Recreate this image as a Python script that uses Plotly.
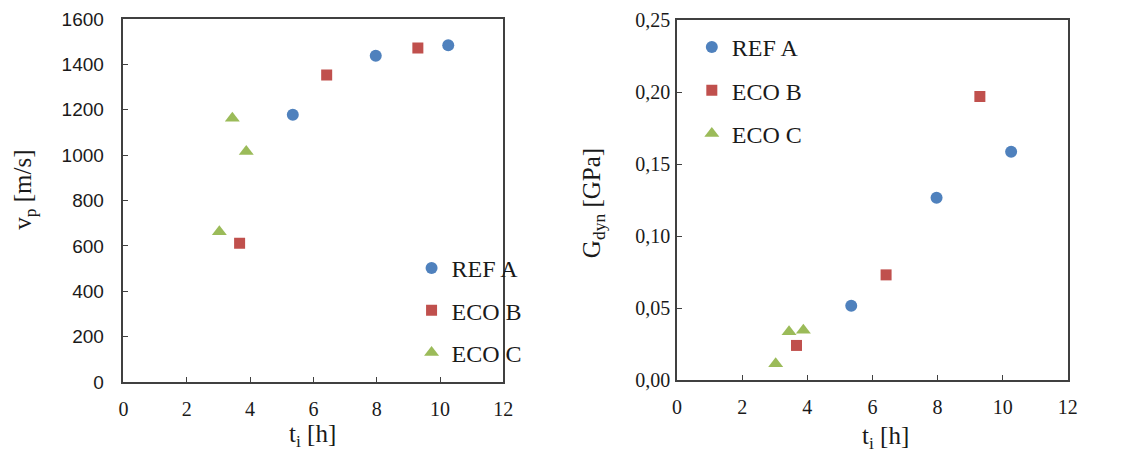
import plotly.graph_objects as go

W, H = 1137, 457
ML, MR, MT, MB = 0, 0, 19, 75
PW, PH = W - ML - MR, H - MT - MB

# ---- data ----
series = ["REF A", "ECO B", "ECO C"]
t_ref = [5.35, 7.97, 10.26]
t_ecob = [3.67, 6.42, 9.30]
t_ecoc = [3.03, 3.44, 3.88]
vp_ref = [1178, 1438, 1484]
vp_ecob = [612, 1353, 1472]
vp_ecoc = [662, 1163, 1016]
g_ref = [0.0515, 0.1265, 0.1585]
g_ecob = [0.0240, 0.0730, 0.1968]
g_ecoc = [0.0112, 0.0335, 0.0345]
x_ticks = [0, 2, 4, 6, 8, 10, 12]
vp_ticks = [0, 200, 400, 600, 800, 1000, 1200, 1400, 1600]
g_ticks = [0.00, 0.05, 0.10, 0.15, 0.20, 0.25]

colors = ["#4F81BD", "#C0504D", "#9BBB59"]
symbols = ["circle", "square", "triangle-up"]
sizes = [12, 11, 13]

SERIF = "Liberation Serif"
SANS = "Liberation Sans"
TXT = "#1a1a1a"

def px_x(p):
    return (p - ML) / PW

def px_y(p):
    return (H - MB - p) / PH

fig = go.Figure()
left_data = [(t_ref, vp_ref), (t_ecob, vp_ecob), (t_ecoc, vp_ecoc)]
right_data = [(t_ref, g_ref), (t_ecob, g_ecob), (t_ecoc, g_ecoc)]
for i, name in enumerate(series):
    fig.add_trace(go.Scatter(
        x=left_data[i][0], y=left_data[i][1], mode="markers", name=name,
        marker=dict(color=colors[i], symbol=symbols[i], size=sizes[i], line=dict(width=0)),
        xaxis="x", yaxis="y", legend="legend", legendgroup="L" + name))
for i, name in enumerate(series):
    fig.add_trace(go.Scatter(
        x=right_data[i][0], y=right_data[i][1], mode="markers", name=name,
        marker=dict(color=colors[i], symbol=symbols[i], size=sizes[i], line=dict(width=0)),
        xaxis="x2", yaxis="y2", legend="legend2", legendgroup="R" + name))

axis_common = dict(showline=True, linecolor="#404040", linewidth=1.5, mirror=True,
                   ticks="inside", ticklen=5, tickcolor="#404040", tickwidth=1,
                   showgrid=False, zeroline=False)

fig.update_layout(
    width=W, height=H, margin=dict(l=ML, r=MR, t=MT, b=MB),
    paper_bgcolor="white", plot_bgcolor="white",
    separators=",.",
    showlegend=True,
    xaxis=dict(domain=[px_x(120), px_x(505)], range=[0, 12], tickvals=x_ticks,
               ticklabelstandoff=8,
               tickfont=dict(family=SERIF, size=20, color=TXT), anchor="y", **axis_common),
    yaxis=dict(domain=[0, 1], range=[0, 1600], tickvals=vp_ticks, ticklabelstandoff=14,
               tickfont=dict(family=SANS, size=19, color=TXT), anchor="x", **axis_common),
    xaxis2=dict(domain=[px_x(681), px_x(1077)], range=[0, 12], tickvals=x_ticks,
                ticklabelstandoff=8,
                tickfont=dict(family=SERIF, size=20, color=TXT), anchor="y2", **axis_common),
    yaxis2=dict(domain=[px_y(380), px_y(20)], range=[0, 0.25], tickvals=g_ticks, tickformat=".2f",
                ticklabelstandoff=1,
                tickfont=dict(family=SERIF, size=20, color=TXT), anchor="x2", **axis_common),
    legend=dict(x=px_x(412), y=px_y(246), xanchor="left", yanchor="top",
                font=dict(family=SERIF, size=24, color=TXT), bgcolor="rgba(0,0,0,0)",
                itemwidth=30, tracegroupgap=8),
    legend2=dict(x=px_x(696), y=px_y(25), xanchor="left", yanchor="top",
                 font=dict(family=SERIF, size=24, color=TXT), bgcolor="rgba(0,0,0,0)",
                 itemwidth=30, tracegroupgap=9),
    annotations=[
        dict(text="v<sub>p</sub> [m/s]", x=px_x(19), y=px_y(190), xref="paper", yref="paper",
             textangle=-90, showarrow=False, font=dict(family=SERIF, size=25, color=TXT),
             xanchor="center", yanchor="middle"),
        dict(text="t<sub>i</sub> [h]", x=px_x(312), y=px_y(435), xref="paper", yref="paper",
             showarrow=False, font=dict(family=SERIF, size=25, color=TXT),
             xanchor="center", yanchor="middle"),
        dict(text="G<sub>dyn</sub> [GPa]", x=px_x(596), y=px_y(203), xref="paper", yref="paper",
             textangle=-90, showarrow=False, font=dict(family=SERIF, size=25, color=TXT),
             xanchor="center", yanchor="middle"),
        dict(text="t<sub>i</sub> [h]", x=px_x(892), y=px_y(437), xref="paper", yref="paper",
             showarrow=False, font=dict(family=SERIF, size=25, color=TXT),
             xanchor="center", yanchor="middle"),
    ],
)

fig.write_html("out.html")
